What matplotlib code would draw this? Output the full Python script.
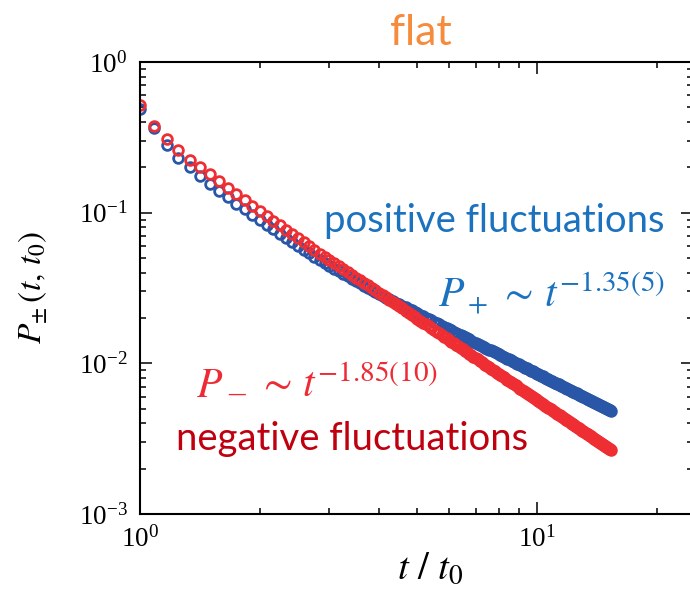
import numpy as np
import matplotlib
matplotlib.use("Agg")
import matplotlib.pyplot as plt
from matplotlib.ticker import LogLocator, FuncFormatter, NullFormatter

# time grid: t / t0 sampled every 1/12 from 1 up to ~15.3
t_ratio = np.arange(12, 185) / 12.0

# persistence probability for positive fluctuations
p_plus = [
    0.4875, 0.3648, 0.2805, 0.2317, 0.1995, 0.1754, 0.1553, 0.1397, 0.1264, 0.1149,
    0.1050, 0.09643, 0.08940, 0.08311, 0.07749, 0.07244, 0.06796, 0.06388, 0.06017, 0.05680,
    0.05371, 0.05087, 0.04829, 0.04621, 0.04431, 0.04253, 0.04087, 0.03932, 0.03786, 0.03649,
    0.03520, 0.03399, 0.03284, 0.03176, 0.03074, 0.02977,
    0.02884, 0.02806, 0.02732, 0.02661, 0.02593, 0.02529, 0.02467, 0.02408, 0.02351, 0.02296,
    0.02244, 0.02193, 0.02145, 0.02099, 0.02054, 0.02011, 0.01969, 0.01929, 0.01890, 0.01853,
    0.01817, 0.01782, 0.01748, 0.01716, 0.01684, 0.01654, 0.01624, 0.01596, 0.01568, 0.01541,
    0.01515, 0.01489, 0.01465, 0.01441, 0.01417, 0.01395, 0.01373, 0.01351, 0.01331, 0.01310,
    0.01291, 0.01272, 0.01253, 0.01235, 0.01217, 0.01200, 0.01183, 0.01166, 0.01150, 0.01134,
    0.01119, 0.01104, 0.01089, 0.01075, 0.01061, 0.01047, 0.01034, 0.01021, 0.01008, 0.00996,
    0.00984, 0.00972, 0.00960, 0.00949, 0.00937, 0.00926, 0.00916, 0.00905, 0.00895, 0.00885,
    0.00875, 0.00865, 0.00855, 0.00846, 0.00837, 0.00828, 0.00819, 0.00810, 0.00802, 0.00793,
    0.00785, 0.00777, 0.00769, 0.00761, 0.00754, 0.00746, 0.00739, 0.00732, 0.00725, 0.00718,
    0.00711, 0.00704, 0.00697, 0.00691, 0.00684, 0.00678, 0.00672, 0.00666, 0.00659, 0.00654,
    0.00648, 0.00642, 0.00636, 0.00631, 0.00625, 0.00620, 0.00614, 0.00609, 0.00604, 0.00599,
    0.00594, 0.00589, 0.00584, 0.00579, 0.00575, 0.00570, 0.00565, 0.00561, 0.00556, 0.00552,
    0.00547, 0.00543, 0.00539, 0.00535, 0.00531, 0.00527, 0.00523, 0.00519, 0.00515, 0.00511,
    0.00507, 0.00503, 0.00500, 0.00496, 0.00492, 0.00489, 0.00485,
]

# persistence probability for negative fluctuations
p_minus = [
    0.5188, 0.3758, 0.3069, 0.2606, 0.2249, 0.2006, 0.1802, 0.1622, 0.1469, 0.1330,
    0.1209, 0.1106, 0.1022, 0.09482, 0.08817, 0.08222, 0.07681, 0.07190, 0.06746, 0.06342,
    0.05975, 0.05639, 0.05331, 0.05070, 0.04831, 0.04609, 0.04403, 0.04211, 0.04032, 0.03866,
    0.03709, 0.03562, 0.03425, 0.03296, 0.03174, 0.03059,
    0.02951, 0.02844, 0.02743, 0.02647, 0.02557, 0.02471, 0.02390, 0.02313, 0.02239, 0.02169,
    0.02103, 0.02039, 0.01979, 0.01921, 0.01866, 0.01813, 0.01763, 0.01715, 0.01668, 0.01624,
    0.01582, 0.01541, 0.01502, 0.01464, 0.01428, 0.01393, 0.01359, 0.01327, 0.01296, 0.01266,
    0.01237, 0.01209, 0.01182, 0.01156, 0.01131, 0.01107, 0.01083, 0.01061, 0.01039, 0.01017,
    0.00997, 0.00977, 0.00957, 0.00939, 0.00920, 0.00903, 0.00886, 0.00869, 0.00853, 0.00837,
    0.00822, 0.00807, 0.00793, 0.00779, 0.00765, 0.00752, 0.00739, 0.00726, 0.00714, 0.00702,
    0.00691, 0.00679, 0.00668, 0.00658, 0.00647, 0.00637, 0.00627, 0.00617, 0.00608, 0.00598,
    0.00589, 0.00581, 0.00572, 0.00563, 0.00555, 0.00547, 0.00539, 0.00532, 0.00524, 0.00517,
    0.00509, 0.00502, 0.00495, 0.00489, 0.00482, 0.00476, 0.00469, 0.00463, 0.00457, 0.00451,
    0.00445, 0.00439, 0.00434, 0.00428, 0.00423, 0.00418, 0.00413, 0.00407, 0.00402, 0.00398,
    0.00393, 0.00388, 0.00383, 0.00379, 0.00374, 0.00370, 0.00366, 0.00362, 0.00357, 0.00353,
    0.00349, 0.00345, 0.00342, 0.00338, 0.00334, 0.00330, 0.00327, 0.00323, 0.00320, 0.00316,
    0.00313, 0.00310, 0.00306, 0.00303, 0.00300, 0.00297, 0.00294, 0.00291, 0.00288, 0.00285,
    0.00282, 0.00279, 0.00277, 0.00274, 0.00271, 0.00269, 0.00266,
]

plt.rcParams["mathtext.fontset"] = "stix"
plt.rcParams["font.family"] = ["Liberation Serif", "DejaVu Serif"]

W, H = 690, 590
fig = plt.figure(figsize=(W / 100, H / 100), dpi=100)
ax_left, ax_bottom, ax_w, ax_h = 140, 514, 553, 452
ax = fig.add_axes([ax_left / W, 1 - ax_bottom / H, ax_w / W, ax_h / H])

blue = "#2a56a8"
red = "#ee2e33"
ax.plot(t_ratio, p_plus, linestyle="none", marker="o", markersize=7.0,
        markerfacecolor="none", markeredgecolor=blue, markeredgewidth=2.0)
ax.plot(t_ratio, p_minus, linestyle="none", marker="o", markersize=7.0,
        markerfacecolor="none", markeredgecolor=red, markeredgewidth=2.0)

ax.set_xscale("log")
ax.set_yscale("log")
ax.set_xlim(1, 10 ** (ax_w / 397))
ax.set_ylim(1e-3, 1e0)

ax.xaxis.set_major_locator(LogLocator(base=10, numticks=10))
ax.yaxis.set_major_locator(LogLocator(base=10, numticks=10))
ax.xaxis.set_minor_locator(LogLocator(base=10, subs=np.arange(2, 10), numticks=20))
ax.yaxis.set_minor_locator(LogLocator(base=10, subs=np.arange(2, 10), numticks=20))
ax.xaxis.set_minor_formatter(NullFormatter())
ax.yaxis.set_minor_formatter(NullFormatter())


def pow_label(v, pos):
    e = int(round(np.log10(v)))
    return r"$\mathregular{10^{%d}}$" % e


ax.xaxis.set_major_formatter(FuncFormatter(pow_label))
ax.yaxis.set_major_formatter(FuncFormatter(pow_label))

for s in ax.spines.values():
    s.set_linewidth(1.5)
ax.tick_params(which="both", direction="in", top=True, right=True, width=1.1,
               labelsize=19.5, colors="black")
ax.tick_params(which="major", length=8.5, pad=9)
ax.tick_params(which="minor", length=4.5)


def px(x, y):
    return x / W, 1 - y / H


# axis titles
fig.text(*px(430, 579), r"$t\ /\ t_0$", fontsize=28, ha="center", va="baseline")
fig.text(*px(33, 287), r"$P_{\pm}\,(t,\,t_0)$", fontsize=24, rotation=90,
         ha="center", va="center")

sans = ["Lato", "DejaVu Sans"]
fig.text(*px(421, 45), "flat", color="#f68b3c", fontsize=31,
         family=sans, ha="center", va="baseline")
fig.text(*px(665, 232), "positive fluctuations", color="#1b72bf", fontsize=27.5,
         family=sans, ha="right", va="baseline")
fig.text(*px(665, 307), "$P_+\\,\\sim\\,t^{-1.35(5)}$", color="#1b72bf", fontsize=30,
         ha="right", va="baseline")

# P_- ~ t^{-1.85(10)}, built from three pieces
neg_col = "#ee2b35"
fig.text(*px(196, 397), "$P$", color=neg_col, fontsize=30, ha="left", va="baseline")
fig.text(*px(228, 403), "\u2013", color=neg_col, fontsize=24, ha="left",
         va="baseline", family=["Liberation Serif"])
fig.text(*px(257, 397), "$\\sim\\,t^{-1.85(10)}$", color=neg_col, fontsize=30,
         ha="left", va="baseline")

fig.text(*px(176, 450), "negative fluctuations", color="#c0000f", fontsize=27.5,
         family=sans, ha="left", va="baseline")

fig.savefig("out.png", dpi=100)
